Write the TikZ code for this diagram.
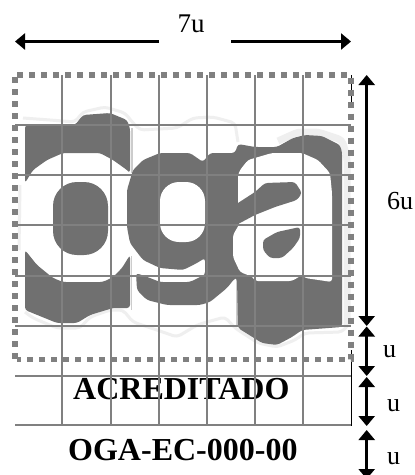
\documentclass[tikz,border=0pt]{standalone}
\usepackage{fontspec}
\setmainfont{Liberation Serif}
\usetikzlibrary{arrows.meta}
\definecolor{logodark}{HTML}{707070}
\definecolor{halo}{HTML}{EFEFEF}
\definecolor{gridgrey}{HTML}{808080}
\tikzset{
  darkpart/.style={fill=logodark,draw=none,rounded corners=3pt},
  whitepart/.style={fill=white,draw=none,rounded corners=3pt},
  haloline/.style={draw=halo,line width=3pt,line join=round,rounded corners=4pt},
  gridline/.style={draw=gridgrey,line width=2pt},
  dotline/.style={draw=gridgrey,line width=5.6pt,dash pattern=on 6pt off 6pt},
  dimarrow/.style={draw=black,line width=2.7pt,{Triangle[length=10pt,width=16pt]}-{Triangle[length=10pt,width=16pt]}},
  onearrow/.style={draw=black,line width=2.7pt,-{Triangle[length=10pt,width=16pt]}},
  dimlabel/.style={inner sep=0pt,anchor=base west,font=\fontsize{27}{27}\selectfont},
  badge/.style={inner sep=0pt,anchor=base west,font=\fontsize{32}{32}\selectfont\bfseries}
}
\begin{document}
\begin{tikzpicture}[x=1pt,y=-1pt]
\clip (0,0) rectangle (415,475);
\fill[white] (0,0) rectangle (415,475);
% halo of the logo
\draw[haloline] (23,118) -- (50,120) -- (75,122) -- (83,112) -- (105,107) -- (125,113) -- (133,123) -- (140,130) -- (177,128) -- (193,118) -- (213,117) -- (235,123) -- (238,142);
\draw[haloline,line width=7pt] (278,141) -- (298,132) -- (318,132) -- (342,140) -- (347,157) -- (347,325);
\draw[haloline] (20,185) -- (19,250);
\draw[haloline] (25,312) -- (33,318) -- (57,328) -- (80,328) -- (90,317) -- (110,310) -- (123,310) -- (133,322) -- (157,330) -- (177,337) -- (197,325) -- (207,322) -- (225,317) -- (235,328) -- (258,343) -- (277,347) -- (295,340) -- (305,333) -- (342,332) -- (348,325);
% thin edges beside the letters
\draw[draw=gridgrey!40,line width=1.5pt] (132,128) -- (132,173);
\draw[draw=gridgrey!40,line width=1.5pt] (131.5,256) -- (131.5,310);
\draw[draw=gridgrey!40,line width=1.5pt] (237,279) -- (237,325);
% letter o
\path[darkpart] (25,125) -- (75,125) -- (83,115) -- (110,113) -- (127,120) -- (130,128) -- (130,173) -- (127,170) -- (113,160) -- (100,153) -- (63,153) -- (47,160) -- (33,170) -- (25,183) -- cycle;
\path[darkpart,rounded corners=24pt] (53,182) rectangle (108,255);
\path[darkpart] (25,250) -- (37,265) -- (53,278) -- (63,282) -- (103,282) -- (113,277) -- (122,268) -- (130,255) -- (130,308) -- (113,308) -- (90,315) -- (77,323) -- (57,323) -- (25,310) -- cycle;
% letters g and a
\path[darkpart] (133,170) -- (143,160) -- (160,153) -- (190,153) -- (203,162) -- (210,153) -- (235,153) -- (238,144) -- (255,147) -- (277,147) -- (293,138) -- (305,135) -- (322,136) -- (340,145) -- (342,152) -- (342,327) -- (302,330) -- (292,337) -- (277,345) -- (262,343) -- (238,328) -- (237,278) -- (235,278) -- (227,288) -- (210,302) -- (200,305) -- (167,305) -- (147,300) -- (137,290) -- (136,273) -- (150,278) -- (160,282) -- (190,282) -- (200,277) -- (205,275) -- (205,258) -- (197,263) -- (183,270) -- (160,268) -- (143,260) -- (130,243) -- (127,227) -- (127,190) -- cycle;
\path[whitepart,rounded corners=19pt] (160,182) rectangle (205,242);
\path[whitepart] (238,203) -- (238,175) -- (240,170) -- (248,160) -- (272,153) -- (302,153) -- (318,160) -- (330,173) -- (332,193) -- (332,282) -- (305,278) -- (302,275) -- (292,281) -- (255,281) -- (253,277) -- (240,272) -- (233,257) -- (233,235) -- (240,223) -- cycle;
\path[darkpart] (230,208) -- (238,203) -- (255,192) -- (265,183) -- (295,182) -- (302,193) -- (297,200) -- (275,207) -- (255,215) -- (240,223) -- (230,228) -- cycle;
\path[darkpart] (263,240) -- (277,232) -- (300,227) -- (300,238) -- (293,248) -- (282,258) -- (270,258) -- (263,250) -- cycle;
% labels under the logo
\node[badge] (acred) at (73,399) {ACREDITADO};
\node[badge] (code) at (68,460) {OGA-EC-000-00};
% thin black right edge
\draw[black,line width=1pt] (351,75) -- (351,105);
\draw[black,line width=1pt] (351,350) -- (351,425.5);
% grid
\foreach \gx in {62,110.5,158.5,206.5,254.5,302.5} \draw[gridline] (\gx,75) -- (\gx,425);
\foreach \gy in {125,175,225,275.7,326,376,425.3} \draw[gridline] (15,\gy) -- (351,\gy);
% dotted frame
\draw[dotline] (17.3,75) -- (350.8,75) -- (350.8,359.3) -- (17.3,359.3);
\draw[dotline] (14.7,358.7) -- (14.7,75);
% dimension arrows
\coordinate (wl) at (15,41.5);
\coordinate (wlin) at (159,41.5);
\coordinate (wrin) at (231,41.5);
\coordinate (wr) at (351,41.5);
\coordinate (v0) at (366.7,75);
\coordinate (v1) at (366.7,326);
\coordinate (v1b) at (366.7,326.5);
\coordinate (v2) at (366.7,376);
\coordinate (v2b) at (366.7,377);
\coordinate (v3) at (366.7,426);
\coordinate (v3b) at (366.7,430);
\coordinate (v4) at (366.7,479);
\draw[onearrow] (wlin) -- (wl);
\draw[onearrow] (wrin) -- (wr);
\draw[dimarrow] (v0) -- (v1);
\draw[dimarrow] (v1b) -- (v2);
\draw[dimarrow] (v2b) -- (v3);
\draw[dimarrow] (v3b) -- (v4);
\node[dimlabel] (l7u) at (177.5,32) {7u};
\node[dimlabel,font=\fontsize{26}{26}\selectfont] (l6u) at (387,209) {6u};
\node[dimlabel,font=\fontsize{26}{26}\selectfont] (lu1) at (383,357) {u};
\node[dimlabel,font=\fontsize{26}{26}\selectfont] (lu2) at (387,411) {u};
\node[dimlabel,font=\fontsize{26}{26}\selectfont] (lu3) at (387,464) {u};
\end{tikzpicture}
\end{document}
